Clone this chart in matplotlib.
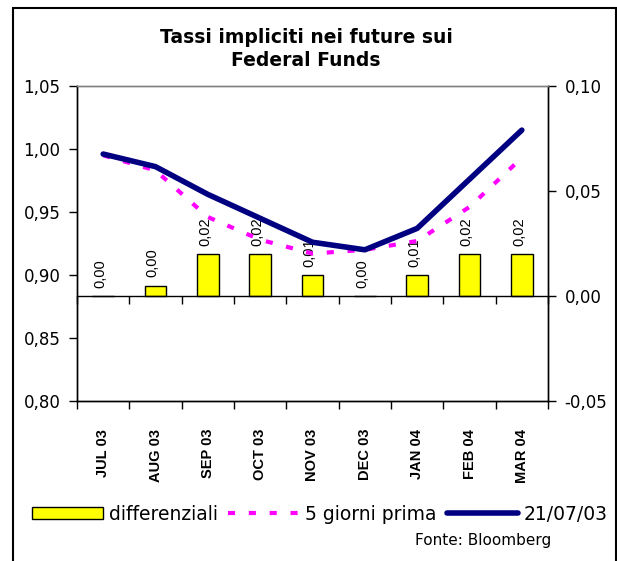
import numpy as np
import matplotlib
matplotlib.use('Agg')
import matplotlib.pyplot as plt
from matplotlib.patches import Rectangle

months = ['JUL 03', 'AUG 03', 'SEP 03', 'OCT 03', 'NOV 03',
          'DEC 03', 'JAN 04', 'FEB 04', 'MAR 04']
current = [0.996, 0.986, 0.964, 0.945, 0.926, 0.920, 0.937, 0.976, 1.015]
five_days = [0.995, 0.983, 0.946, 0.928, 0.917, 0.920, 0.927, 0.954, 0.993]
diff = [0.000, 0.005, 0.020, 0.020, 0.010, 0.000, 0.010, 0.020, 0.020]
diff_labels = ['0,00', '0,00', '0,02', '0,02', '0,01', '0,00', '0,01', '0,02', '0,02']
left_ticks = [0.80, 0.85, 0.90, 0.95, 1.00, 1.05]
right_ticks = [-0.05, 0.00, 0.05, 0.10]

plt.rcParams['font.family'] = 'DejaVu Sans'

fig = plt.figure(figsize=(6.17, 5.61), dpi=100)
ax = fig.add_axes([77/617, 1-401/561, 471/617, 315/561])
ax2 = ax.twinx()
ax.set_zorder(ax2.get_zorder() + 1)
ax.patch.set_visible(False)

x = np.arange(len(months))

# bars (right axis)
ax2.bar(x, diff, width=0.42, color='#FFFF00', edgecolor='black', linewidth=1, zorder=2)
for xi, v, lab in zip(x, diff, diff_labels):
    ax2.annotate(lab, (xi, v), xytext=(-2, 6), textcoords='offset points',
                 rotation=90, ha='center', va='bottom', fontsize=10.5,
                 family='Liberation Sans')
ax2.set_ylim(-0.05, 0.10)
ax2.set_yticks(right_ticks)
ax2.set_yticklabels([f'{t:.2f}'.replace('.', ',') for t in right_ticks], fontsize=12)
ax2.tick_params(axis='y', direction='out', length=6, width=1, pad=6)

# lines (left axis)
ax.plot(x, five_days, color='#FF00FF', lw=3, dashes=(1.7, 3.3),
        dash_capstyle='butt', label='5 giorni prima')
ax.plot(x, current, color='#000080', lw=4, solid_capstyle='round', label='21/07/03')
ax.set_ylim(0.80, 1.05)
ax.set_xlim(-0.5, len(months) - 0.5)
ax.set_yticks(left_ticks)
ax.set_yticklabels([f'{t:.2f}'.replace('.', ',') for t in left_ticks], fontsize=12)
ax.tick_params(axis='y', direction='out', length=6, width=1, pad=6)

# category axis: ticks at boundaries, labels at centres
bounds = np.arange(len(months) + 1) - 0.5
ax.set_xticks(bounds)
ax.set_xticklabels([])
ax.set_xticks(x, minor=True)
ax.set_xticklabels(months, minor=True, rotation=90, fontsize=10.5,
                   fontweight='bold', family='Liberation Sans', va='top')
ax.tick_params(axis='x', which='major', direction='out', length=6, width=1)
ax.tick_params(axis='x', which='minor', length=0, pad=20)

# axis through zero of the bars
zero_frac = (0 - ax2.get_ylim()[0]) / (ax2.get_ylim()[1] - ax2.get_ylim()[0])
sec = ax.secondary_xaxis(zero_frac)
sec.set_xticks(bounds)
sec.set_xticklabels([])
sec.tick_params(direction='out', length=6, width=1)
sec.xaxis.set_ticks_position('bottom')
sec.spines['bottom'].set_linewidth(1)

for a in (ax, ax2):
    a.spines['top'].set_color('#808080')
    a.spines['top'].set_linewidth(1)
    a.spines['left'].set_linewidth(1)
    a.spines['right'].set_linewidth(1)
    a.spines['bottom'].set_linewidth(1)

fig.text(306/617, 1-49/561, 'Tassi impliciti nei future sui\nFederal Funds',
         ha='center', va='center', fontsize=13.5, fontweight='bold', linespacing=1.25)

bar_h = ax2.patches[0]
h1, l1 = ax.get_legend_handles_labels()
fig.legend([bar_h] + h1, ['differenziali'] + l1, loc='center', ncol=3,
           bbox_to_anchor=(320/617, 1-514/561), frameon=False, fontsize=13.5,
           handlelength=3.8, handleheight=0.6, handletextpad=0.3,
           columnspacing=0.55, borderpad=0)

fig.text(551/617, 1-540/561, 'Fonte: Bloomberg', ha='right', va='center', fontsize=11)

fig.patches.append(Rectangle((13/617, -0.1), 603/617, 1.1 - 8/561,
                             transform=fig.transFigure, fill=False,
                             edgecolor='black', linewidth=1.5))

fig.savefig('out.png', dpi=100)
